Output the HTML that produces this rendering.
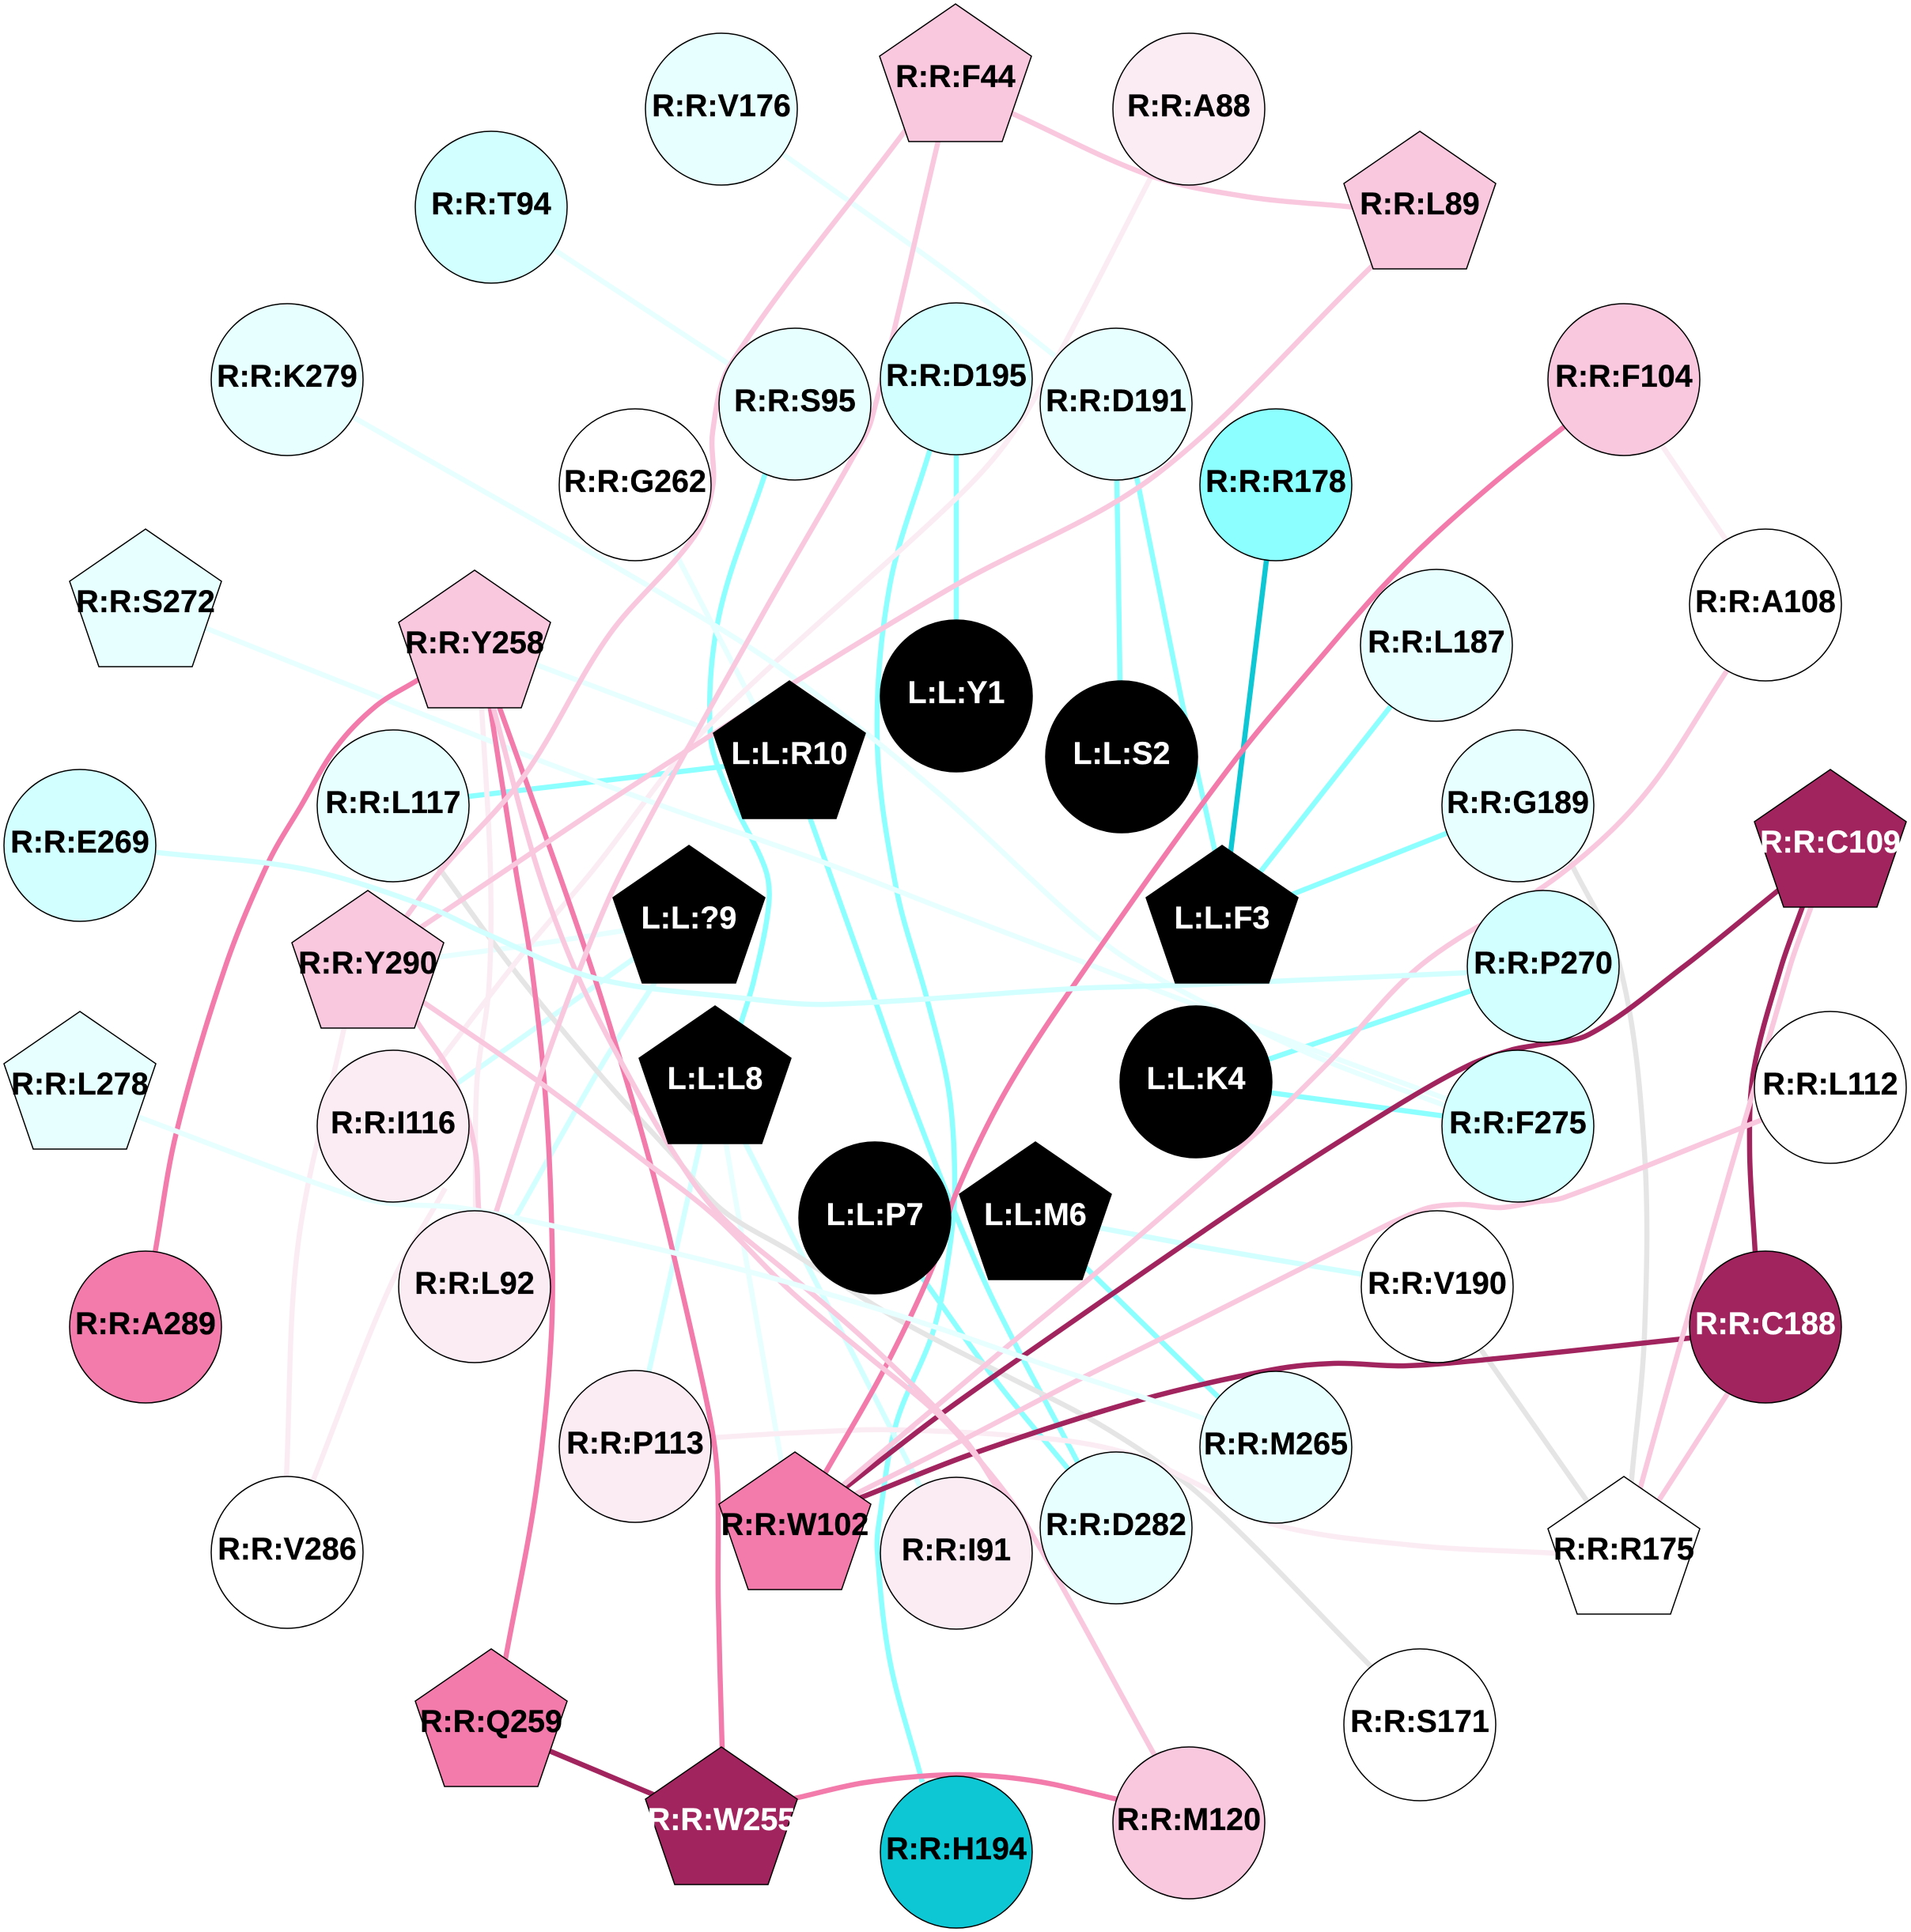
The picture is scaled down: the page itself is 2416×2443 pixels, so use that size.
<!DOCTYPE html>
<html><head><meta charset="utf-8"><title>Contact network</title>
<style>
html,body{margin:0;padding:0;background:#fff}
svg{display:block}
text{font-family:"Liberation Sans",Arial,sans-serif;font-weight:bold;font-size:39.5px;text-anchor:middle;fill:#000;stroke:#000;stroke-width:.3px;transform:translateY(-1px)}
text.w{fill:#fff;stroke:#fff}
circle,polygon{stroke:#000;stroke-width:1.5}
path{fill:none;stroke-width:6.5;stroke-linecap:butt;stroke-linejoin:round}
</style></head><body>
<svg xmlns="http://www.w3.org/2000/svg" width="2416" height="2443" viewBox="0 0 2416 2443">
<rect width="2416" height="2443" fill="#fff"/>
<g id="edges"></g>
<g id="nodes">
<polygon transform="translate(1208,101)" points="0,-96 96,-30 59,78 -59,78 -96,-30" fill="#f9c8df"/><text x="1208" y="111">R:R:F44</text>
<circle cx="912" cy="138" r="96" fill="#e8ffff"/><text x="912" y="148">R:R:V176</text>
<circle cx="1503" cy="138" r="96" fill="#fbecf4"/><text x="1503" y="148">R:R:A88</text>
<circle cx="621" cy="262" r="96" fill="#d2ffff"/><text x="621" y="272">R:R:T94</text>
<polygon transform="translate(1795,262)" points="0,-96 96,-30 59,78 -59,78 -96,-30" fill="#f9c8df"/><text x="1795" y="272">R:R:L89</text>
<circle cx="363" cy="480" r="96" fill="#e8ffff"/><text x="363" y="490">R:R:K279</text>
<circle cx="1209" cy="479" r="96" fill="#d2ffff"/><text x="1209" y="489">R:R:D195</text>
<circle cx="2053" cy="480" r="96" fill="#f9c8df"/><text x="2053" y="490">R:R:F104</text>
<circle cx="1005" cy="511" r="96" fill="#e8ffff"/><text x="1005" y="521">R:R:S95</text>
<circle cx="1411" cy="511" r="96" fill="#e8ffff"/><text x="1411" y="521">R:R:D191</text>
<circle cx="803" cy="613" r="96" fill="#ffffff"/><text x="803" y="623">R:R:G262</text>
<circle cx="1613" cy="613" r="96" fill="#8cffff"/><text x="1613" y="623">R:R:R178</text>
<polygon transform="translate(184,765)" points="0,-96 96,-30 59,78 -59,78 -96,-30" fill="#e8ffff"/><text x="184" y="775">R:R:S272</text>
<circle cx="2232" cy="765" r="96" fill="#ffffff"/><text x="2232" y="775">R:R:A108</text>
<polygon transform="translate(600,817)" points="0,-96 96,-30 59,78 -59,78 -96,-30" fill="#f9c8df"/><text x="600" y="827">R:R:Y258</text>
<circle cx="1816" cy="816" r="96" fill="#e8ffff"/><text x="1816" y="826">R:R:L187</text>
<circle cx="1209" cy="880" r="96" fill="#000"/><text class="w" x="1209" y="890">L:L:Y1</text>
<circle cx="1418" cy="957" r="96" fill="#000"/><text class="w" x="1418" y="967">L:L:S2</text>
<polygon transform="translate(998,957)" points="0,-96 96,-30 59,78 -59,78 -96,-30" fill="#000"/><text class="w" x="998" y="967">L:L:R10</text>
<circle cx="497" cy="1019" r="96" fill="#e8ffff"/><text x="497" y="1029">R:R:L117</text>
<circle cx="1919" cy="1019" r="96" fill="#e8ffff"/><text x="1919" y="1029">R:R:G189</text>
<circle cx="101" cy="1069" r="96" fill="#d2ffff"/><text x="101" y="1079">R:R:E269</text>
<polygon transform="translate(2314,1069)" points="0,-96 96,-30 59,78 -59,78 -96,-30" fill="#a2245e"/><text class="w" x="2314" y="1079">R:R:C109</text>
<polygon transform="translate(871,1165)" points="0,-96 96,-30 59,78 -59,78 -96,-30" fill="#000"/><text class="w" x="871" y="1175">L:L:?9</text>
<polygon transform="translate(1545,1165)" points="0,-96 96,-30 59,78 -59,78 -96,-30" fill="#000"/><text class="w" x="1545" y="1175">L:L:F3</text>
<polygon transform="translate(465,1222)" points="0,-96 96,-30 59,78 -59,78 -96,-30" fill="#f9c8df"/><text x="465" y="1232">R:R:Y290</text>
<circle cx="1951" cy="1222" r="96" fill="#d2ffff"/><text x="1951" y="1232">R:R:P270</text>
<polygon transform="translate(101,1375)" points="0,-96 96,-30 59,78 -59,78 -96,-30" fill="#e8ffff"/><text x="101" y="1385">R:R:L278</text>
<polygon transform="translate(904,1368)" points="0,-96 96,-30 59,78 -59,78 -96,-30" fill="#000"/><text class="w" x="904" y="1378">L:L:L8</text>
<circle cx="1512" cy="1368" r="96" fill="#000"/><text class="w" x="1512" y="1378">L:L:K4</text>
<circle cx="2314" cy="1375" r="96" fill="#ffffff"/><text x="2314" y="1385">R:R:L112</text>
<circle cx="497" cy="1424" r="96" fill="#fbecf4"/><text x="497" y="1434">R:R:I116</text>
<circle cx="1919" cy="1424" r="96" fill="#d2ffff"/><text x="1919" y="1434">R:R:F275</text>
<circle cx="600" cy="1627" r="96" fill="#fbecf4"/><text x="600" y="1637">R:R:L92</text>
<circle cx="1817" cy="1627" r="96" fill="#ffffff"/><text x="1817" y="1637">R:R:V190</text>
<circle cx="1106" cy="1540" r="96" fill="#000"/><text class="w" x="1106" y="1550">L:L:P7</text>
<polygon transform="translate(1309,1540)" points="0,-96 96,-30 59,78 -59,78 -96,-30" fill="#000"/><text class="w" x="1309" y="1550">L:L:M6</text>
<circle cx="184" cy="1678" r="96" fill="#f27bac"/><text x="184" y="1688">R:R:A289</text>
<circle cx="2232" cy="1678" r="96" fill="#a2245e"/><text class="w" x="2232" y="1688">R:R:C188</text>
<circle cx="803" cy="1829" r="96" fill="#fbecf4"/><text x="803" y="1839">R:R:P113</text>
<circle cx="1613" cy="1830" r="96" fill="#e8ffff"/><text x="1613" y="1840">R:R:M265</text>
<polygon transform="translate(1005,1932)" points="0,-96 96,-30 59,78 -59,78 -96,-30" fill="#f27bac"/><text x="1005" y="1942">R:R:W102</text>
<polygon transform="translate(2053,1963)" points="0,-96 96,-30 59,78 -59,78 -96,-30" fill="#ffffff"/><text x="2053" y="1973">R:R:R175</text>
<circle cx="1411" cy="1932" r="96" fill="#e8ffff"/><text x="1411" y="1942">R:R:D282</text>
<circle cx="1209" cy="1964" r="96" fill="#fbecf4"/><text x="1209" y="1974">R:R:I91</text>
<circle cx="363" cy="1963" r="96" fill="#ffffff"/><text x="363" y="1973">R:R:V286</text>
<polygon transform="translate(621,2181)" points="0,-96 96,-30 59,78 -59,78 -96,-30" fill="#f27bac"/><text x="621" y="2191">R:R:Q259</text>
<circle cx="1795" cy="2181" r="96" fill="#ffffff"/><text x="1795" y="2191">R:R:S171</text>
<polygon transform="translate(912,2305)" points="0,-96 96,-30 59,78 -59,78 -96,-30" fill="#a2245e"/><text class="w" x="912" y="2315">R:R:W255</text>
<circle cx="1503" cy="2305" r="96" fill="#f9c8df"/><text x="1503" y="2315">R:R:M120</text>
<circle cx="1209" cy="2342" r="96" fill="#0dc8d4"/><text x="1209" y="2352">R:R:H194</text>
</g>
</svg>
<script>
var A='#8cffff',B='#d2ffff',C='#e8ffff',T='#0dc8d4',P='#f9c8df',Q='#fbecf4',M='#f27bac',K='#a2245e',G='#e5e5e5';
var E=[
[A,[[1209,570],[1209,790]]],
[A,[[1412,608],[1416,861]]],
[A,[[1438,608],[1493,881],[1535,1072]]],
[T,[[1601,709],[1556,1076]]],
[A,[[1759,892],[1593,1103]]],
[A,[[1828,1054],[1636,1130]]],
[A,[[1859,1253],[1605,1339]]],
[A,[[1824,1411],[1608,1382]]],
[A,[[593,1007],[917,969]]],
[A,[[967,600],[909,779],[898,928],[920,1000],[967,1097],[972,1143],[953,1240],[937,1293]]],
[A,[[1175,571],[1125,740],[1109,935],[1133,1123],[1173,1267],[1200,1383],[1207,1500],[1200,1583],[1180,1683],[1133,1800],[1112,1920],[1109,1960],[1125,2100],[1163,2242]]],
[A,[[1025,1037],[1107,1267],[1140,1360],[1207,1533],[1260,1653],[1363,1850]]],
[A,[[1167,1617],[1260,1747],[1350,1857]]],
[A,[[1373,1603],[1520,1747],[1547,1773]]],
[C,[[990,195],[1208,351],[1331,448]]],
[C,[[701,316],[921,460]]],
[C,[[682,842],[878,916]]],
[C,[[859,709],[948,881]]],
[B,[[1392,1553],[1520,1577],[1720,1611]]],
[C,[[555,1210],[670,1195],[787,1177]]],
[B,[[578,1370],[677,1300],[800,1213]]],
[B,[[653,1537],[763,1343],[823,1250]]],
[B,[[885,1447],[873,1500],[820,1736]]],
[C,[[918,1447],[927,1500],[987,1843]]],
[B,[[943,1447],[1000,1560],[1067,1690],[1160,1873]]],
[G,[[1986,1091],[2048,1222],[2079,1456],[2079,1689],[2063,1868]]],
[G,[[1874,1709],[2005,1896]]],
[G,[[559,1103],[647,1223],[757,1357],[853,1463],[913,1530],[1000,1583],[1133,1667],[1267,1737],[1400,1807],[1520,1893],[1732,2106]]],
[Q,[[2105,569],[2179,678]]],
[Q,[[1454,226],[1343,440],[1277,553],[1208,631],[886,928],[750,1100],[663,1203],[557,1340]]],
[Q,[[397,1869],[493,1627],[557,1513]]],
[Q,[[609,896],[620,1100],[618,1250],[603,1367],[601,1530]]],
[Q,[[435,1300],[377,1572],[362,1869]]],
[Q,[[901,1818],[1000,1812],[1133,1808],[1333,1820],[1433,1840],[1520,1880],[1608,1927],[1786,1954],[1967,1964]]],
[C,[[451,530],[832,748],[994,850],[1183,1000],[1360,1163],[1439,1222],[1580,1297],[1680,1343],[1827,1398]]],
[C,[[262,795],[655,951],[840,1020],[1040,1090],[1208,1155],[1360,1213],[1580,1297],[1680,1335],[1830,1390]]],
[M,[[1977,540],[1893,607],[1810,680],[1747,743],[1677,823],[1560,963],[1374,1222],[1273,1377],[1207,1513],[1180,1600],[1117,1733],[1043,1863]]],
[M,[[528,860],[475,893],[425,945],[380,1020],[339,1091],[285,1222],[223,1432],[196,1584]]],
[M,[[620,896],[652,1100],[670,1207],[688,1367],[697,1533],[697,1689],[678,1884],[639,2098]]],
[M,[[632,896],[705,1100],[753,1240],[800,1393],[830,1500],[850,1580],[897,1790],[907,1867],[908,2020],[913,2211]]],
[M,[[1009,2273],[1094,2254],[1208,2244],[1308,2252],[1412,2275]]],
[K,[[697,2215],[828,2270]]],
[K,[[2248,1126],[2129,1222],[2009,1308],[1940,1322],[1913,1327],[1857,1347],[1763,1400],[1580,1517],[1290,1717],[1183,1793],[1070,1880]]],
[K,[[2279,1146],[2252,1222],[2217,1354],[2212,1456],[2219,1584]]],
[K,[[2136,1692],[1901,1717],[1778,1727],[1686,1724],[1609,1732],[1443,1770],[1233,1837],[1090,1893]]],
[P,[[1281,144],[1454,222],[1578,249],[1701,261]]],
[P,[[1140,171],[924,460],[901,546],[901,616],[878,678],[770,803],[662,982],[558,1100],[513,1160]]],
[P,[[1186,179],[1102,530],[1079,577],[963,779],[787,1100],[730,1233],[680,1370],[628,1530]]],
[P,[[1732,339],[1462,600],[1208,740],[1001,865],[770,1013],[640,1100],[533,1172]]],
[P,[[2182,850],[2079,1005],[1971,1107],[1797,1220],[1680,1343],[1580,1440],[1377,1617],[1273,1703],[1067,1877]]],
[P,[[2225,1417],[1978,1514],[1940,1520],[1897,1527],[1847,1523],[1797,1530],[1693,1580],[1520,1667],[1367,1743],[1213,1823],[1080,1890]]],
[P,[[2290,1146],[2263,1222],[2125,1697],[2075,1877]]],
[P,[[2183,1764],[2098,1896]]],
[P,[[528,1293],[573,1363],[600,1450],[605,1527]]],
[P,[[624,896],[680,1100],[730,1233],[780,1333],[847,1450],[907,1533],[1000,1613],[1100,1700],[1217,1817],[1260,1880]]],
[P,[[535,1267],[680,1367],[817,1470],[903,1537],[1000,1633],[1100,1717],[1180,1783],[1233,1840],[1293,1920],[1460,2220]]],
[B,[[199,1078],[385,1099],[539,1146],[613,1180],[753,1237],[947,1263],[1047,1270],[1360,1250],[1516,1245],[1855,1230]]],
[C,[[177,1413],[385,1491],[480,1520],[580,1527],[713,1553],[847,1583],[980,1617],[1167,1673],[1333,1730],[1520,1793],[1547,1810]]]
];
function dist(a,b){var dx=a[0]-b[0],dy=a[1]-b[1];return Math.sqrt(dx*dx+dy*dy)||1;}
function ext(a,b){var l=dist(a,b);return [a[0]+(a[0]-b[0])/l*12,a[1]+(a[1]-b[1])/l*12];}
function tan(a,c){var l=dist(a,c);return [(c[0]-a[0])/l,(c[1]-a[1])/l];}
var g=document.getElementById('edges'),NS='http://www.w3.org/2000/svg';
E.forEach(function(e){
  var p=e[1].slice(),n=p.length;
  p.unshift(ext(p[0],p[1]));p.push(ext(p[n],p[n-1]));
  n=p.length;
  var d='M'+p[0][0].toFixed(1)+' '+p[0][1].toFixed(1);
  for(var i=0;i<n-1;i++){
    var a=p[Math.max(i-1,0)],b=p[i],c=p[i+1],f=p[Math.min(i+2,n-1)];
    var L=dist(b,c)/3,t1=tan(a,c),t2=tan(b,f);
    d+=' C'+(b[0]+t1[0]*L).toFixed(1)+' '+(b[1]+t1[1]*L).toFixed(1)+' '+(c[0]-t2[0]*L).toFixed(1)+' '+(c[1]-t2[1]*L).toFixed(1)+' '+c[0].toFixed(1)+' '+c[1].toFixed(1);
  }
  var s=document.createElementNS(NS,'path');s.setAttribute('d',d);s.setAttribute('stroke',e[0]);g.appendChild(s);
});
</script>
</body></html>
